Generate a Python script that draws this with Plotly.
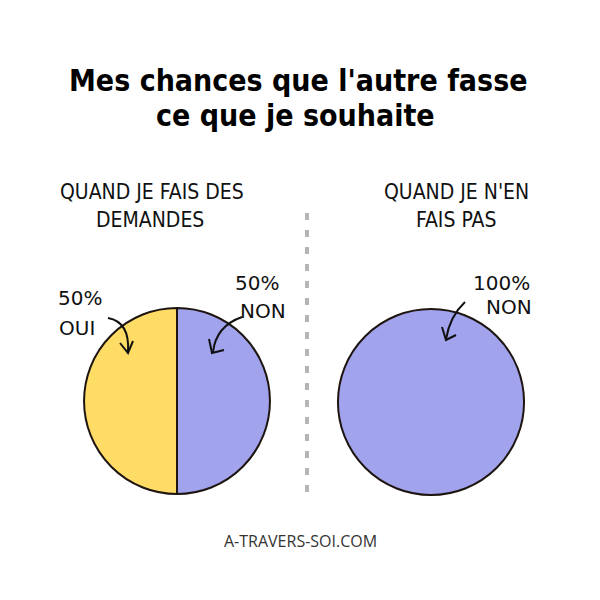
import plotly.graph_objects as go

# ---- data ----
title_lines = ["Mes chances que l'autre fasse", "ce que je souhaite"]
left_title = ["QUAND JE FAIS DES", "DEMANDES"]
right_title = ["QUAND JE N'EN", "FAIS PAS"]
left_labels = ["NON", "OUI"]
left_values = [50, 50]
right_labels = ["NON"]
right_values = [100]
footer = "A-TRAVERS-SOI.COM"

YELLOW = "#FEDC66"
PURPLE = "#A1A3EC"
colors = {"OUI": YELLOW, "NON": PURPLE}
EDGE = "#1e1410"

# page body has an 8px margin; figure fills the rest of the 600px window
OFF = 8
W = H = 600 - 2 * OFF


def px(x):
    return (x - OFF) / W


def py(y):
    return 1 - (y - OFF) / H


fig = go.Figure()

fig.add_trace(go.Pie(
    labels=left_labels, values=left_values, sort=False, direction="clockwise",
    rotation=0, textinfo="none", hoverinfo="label+percent",
    marker=dict(colors=[colors[l] for l in left_labels], line=dict(color=EDGE, width=2)),
    domain=dict(x=[px(84), px(270)], y=[py(494), py(308)]),
    showlegend=False,
))
fig.add_trace(go.Pie(
    labels=right_labels, values=right_values, sort=False, textinfo="none",
    hoverinfo="label+percent",
    marker=dict(colors=[colors[l] for l in right_labels], line=dict(color=EDGE, width=2)),
    domain=dict(x=[px(338), px(524)], y=[py(495), py(309)]),
    showlegend=False,
))

ann = []
title_font = dict(family="DejaVu Sans Condensed, DejaVu Sans, sans-serif", size=30, color="#000")
ann.append(dict(x=px(298), y=py(80), text="<b>" + title_lines[0] + "</b>", font=title_font))
ann.append(dict(x=px(295), y=py(115), text="<b>" + title_lines[1] + "</b>", font=title_font))

sub_font = dict(family="DejaVu Sans Condensed, sans-serif", size=21, color="#111")
ann.append(dict(x=px(152), y=py(192), text=left_title[0], font=sub_font))
ann.append(dict(x=px(150), y=py(220), text=left_title[1], font=sub_font))
ann.append(dict(x=px(456), y=py(192), text=right_title[0], font=sub_font))
ann.append(dict(x=px(456), y=py(220), text=right_title[1], font=sub_font))

hand_font = dict(family="DejaVu Sans, sans-serif", size=20, color="#111")
ann.append(dict(x=px(80), y=py(298), text=f"{left_values[1]}%", font=hand_font))
ann.append(dict(x=px(77), y=py(328), text=left_labels[1], font=hand_font))
ann.append(dict(x=px(257), y=py(283), text=f"{left_values[0]}%", font=hand_font))
ann.append(dict(x=px(263), y=py(311), text=left_labels[0], font=hand_font))
ann.append(dict(x=px(501), y=py(283), text=f"{right_values[0]}%", font=hand_font))
ann.append(dict(x=px(509), y=py(307), text=right_labels[0], font=hand_font))

ann.append(dict(x=px(300), y=py(541), text=footer,
                font=dict(family="Open Sans, sans-serif", size=16, color="#333")))

for a in ann:
    a.update(xref="paper", yref="paper", showarrow=False, xanchor="center", yanchor="middle")

shapes = []
shapes.append(dict(type="line", xref="paper", yref="paper",
                   x0=px(307), x1=px(307), y0=py(213), y1=py(500),
                   line=dict(color="#b5b5b5", width=4, dash="7px,10px")))


def path(points, curve=None):
    if curve:
        (x0, y0), (cx, cy), (x1, y1) = curve
        return f"M {px(x0)},{py(y0)} Q {px(cx)},{py(cy)} {px(x1)},{py(y1)}"
    return "M " + " L ".join(f"{px(x)},{py(y)}" for x, y in points)


arrow_line = dict(color="#111", width=2)
arrows = [
    (((108, 318), (130, 322), (128, 352)), [(120, 343), (128, 353), (133, 341)]),
    (((242, 317), (216, 326), (213, 352)), [(209, 339), (212, 353), (224, 350)]),
    (((465, 302), (450, 316), (446, 339)), [(442, 327), (446, 340), (456, 335)]),
]
for curve, head in arrows:
    shapes.append(dict(type="path", xref="paper", yref="paper", path=path(None, curve), line=arrow_line))
    shapes.append(dict(type="path", xref="paper", yref="paper", path=path(head), line=arrow_line))

fig.update_layout(
    width=W, height=H, margin=dict(l=0, r=0, t=0, b=0),
    paper_bgcolor="white", plot_bgcolor="white",
    annotations=ann, shapes=shapes,
)

fig.write_html("out.html")
